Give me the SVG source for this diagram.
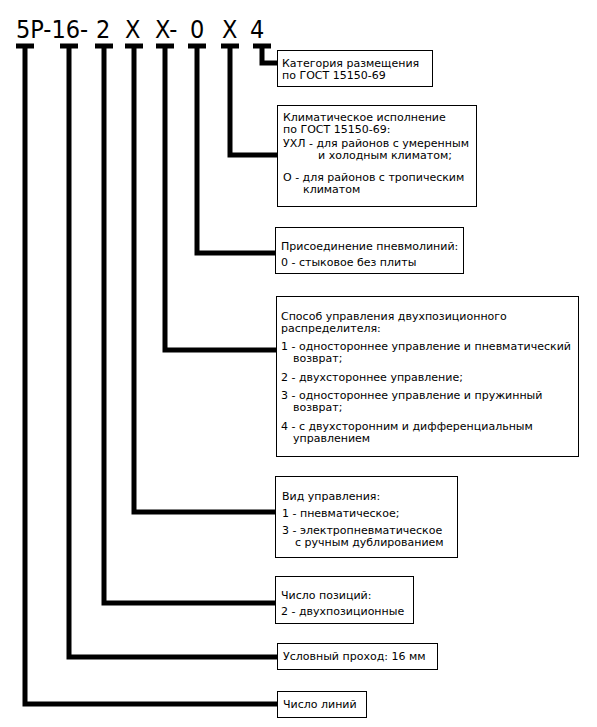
<svg xmlns="http://www.w3.org/2000/svg" width="597" height="727" viewBox="0 0 597 727">
<style>
.bg{fill:#fff}
.box{fill:#fff;stroke:#000;stroke-width:1}
.t{font-family:"DejaVu Sans",Verdana,sans-serif;font-size:11px;fill:#000}
.title{font-family:"DejaVu Sans Condensed","DejaVu Sans",sans-serif;font-size:25px;fill:#000}
.c{fill:none;stroke:#000;stroke-width:5;stroke-linejoin:miter;stroke-linecap:butt}
</style>
<rect class="bg" x="0" y="0" width="597" height="727"/>
<text class="title" y="38"><tspan x="16">5P-16- </tspan><tspan x="96">2 </tspan><tspan x="125">X </tspan><tspan x="155">X- </tspan><tspan x="190">0 </tspan><tspan x="222">X </tspan><tspan x="250">4</tspan></text>
<g id="connectors">
<path class="c" d="M16,46H34M25,46V704H278"/>
<path class="c" d="M60,46H78M69,46V657H278"/>
<path class="c" d="M95,46H113M104,46V603H278"/>
<path class="c" d="M125,46H143M134,46V512H278"/>
<path class="c" d="M156,46H174M165,46V350H278"/>
<path class="c" d="M188,46H206M197,46V253H278"/>
<path class="c" d="M221,46H239M230,46V155H278"/>
<path class="c" d="M253,46H271M262,46V63H278"/>
</g>
<g id="n1">
<rect class="box" x="277.5" y="50.5" width="155" height="36"/>
<text class="t" x="282" y="67">Категория размещения</text>
<text class="t" x="282" y="79">по ГОСТ 15150-69</text>
</g>
<g id="n2">
<rect class="box" x="277.5" y="105.5" width="199" height="101"/>
<text class="t" x="283" y="121">Климатическое исполнение</text>
<text class="t" x="283" y="133">по ГОСТ 15150-69:</text>
<text class="t" x="283" y="147">УХЛ - для районов с умеренным</text>
<text class="t" x="318" y="159">и холодным климатом;</text>
<text class="t" x="283" y="181">О - для районов с тропическим</text>
<text class="t" x="303" y="193">климатом</text>
</g>
<g id="n3">
<rect class="box" x="275.5" y="227.5" width="188" height="46"/>
<text class="t" x="281" y="250">Присоединение пневмолиний:</text>
<text class="t" x="281" y="266">0 - стыковое без плиты</text>
</g>
<g id="n4">
<rect class="box" x="276.5" y="296.5" width="302" height="160"/>
<text class="t" x="281" y="320">Способ управления двухпозиционного</text>
<text class="t" x="281" y="332">распределителя:</text>
<text class="t" x="281" y="350">1 - одностороннее управление и пневматический</text>
<text class="t" x="293" y="362">возврат;</text>
<text class="t" x="281" y="381">2 - двухстороннее управление;</text>
<text class="t" x="281" y="399">3 - одностороннее управление и пружинный</text>
<text class="t" x="293" y="411">возврат;</text>
<text class="t" x="281" y="430">4 - с двухсторонним и дифференциальным</text>
<text class="t" x="293" y="442">управлением</text>
</g>
<g id="n5">
<rect class="box" x="275.5" y="476.5" width="182" height="81"/>
<text class="t" x="282" y="500">Вид управления:</text>
<text class="t" x="282" y="517">1 - пневматическое;</text>
<text class="t" x="282" y="534">3 - электропневматическое</text>
<text class="t" x="295" y="546">с ручным дублированием</text>
</g>
<g id="n6">
<rect class="box" x="275.5" y="576.5" width="138" height="47"/>
<text class="t" x="281" y="599">Число позиций:</text>
<text class="t" x="281" y="615">2 - двухпозиционные</text>
</g>
<g id="n7">
<rect class="box" x="277.5" y="643.5" width="160" height="26"/>
<text class="t" x="283" y="660">Условный проход: 16 мм</text>
</g>
<g id="n8">
<rect class="box" x="277.5" y="691.5" width="89" height="26"/>
<text class="t" x="283" y="708">Число линий</text>
</g>
</svg>
